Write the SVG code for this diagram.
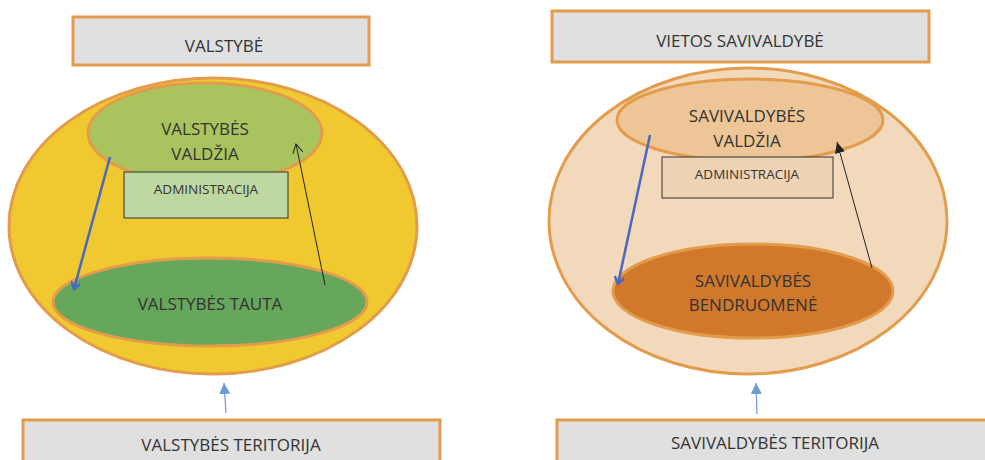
<svg xmlns="http://www.w3.org/2000/svg" width="985" height="460" viewBox="0 0 985 460">
<defs>
<style>
.box{fill:#E0E0E0;stroke:#E29C4B;stroke-width:3}
.ell{stroke:#E29C4B;stroke-width:3}
.adm{stroke:#333;stroke-width:1}
text{font-family:"Open Sans","Liberation Sans",sans-serif;fill:#333;text-anchor:middle;dominant-baseline:central}
.t16{font-size:17px}
.t12{font-size:13.5px}
.blue{stroke:#4A68C0;stroke-width:2.5;fill:none}
.blk{stroke:#222;stroke-width:1;fill:none}
.lb{stroke:#6E9AD8;stroke-width:1.2;fill:none}
</style>
<marker id="mBlue" markerWidth="10" markerHeight="10" refX="8" refY="5" orient="auto" markerUnits="userSpaceOnUse">
<path d="M1,0 L8,5 L1,10" fill="none" stroke="#4A68C0" stroke-width="2.5"/>
</marker>
<marker id="mBlkOpen" markerWidth="12" markerHeight="12" refX="11" refY="6" orient="auto" markerUnits="userSpaceOnUse">
<path d="M2,1 L11,6 L2,11" fill="none" stroke="#222" stroke-width="1"/>
</marker>
<marker id="mBlkFill" markerWidth="12" markerHeight="12" refX="11" refY="6" orient="auto" markerUnits="userSpaceOnUse">
<path d="M0,1 L11,6 L0,11 Z" fill="#222"/>
</marker>
<marker id="mLb" markerWidth="12" markerHeight="12" refX="11" refY="6" orient="auto" markerUnits="userSpaceOnUse">
<path d="M0,0.5 L11,6 L0,11.5 Z" fill="#6E9AD8"/>
</marker>
</defs>
<rect width="985" height="460" fill="#FFFFFF"/>

<!-- Left diagram -->
<g id="valstybe">
<rect class="box" x="73" y="17" width="296" height="48"/>
<text class="t16" x="224" y="45">VALSTYBĖ</text>
</g>
<g id="valstybe-ellipse">
<ellipse class="ell" cx="213" cy="226" rx="204" ry="148" fill="#F0C830"/>
</g>
<g id="valstybes-valdzia">
<ellipse class="ell" cx="205" cy="133" rx="117" ry="50" fill="#A9C45E"/>
<text class="t16" x="205" y="128">VALSTYBĖS</text>
<text class="t16" x="205" y="153">VALDŽIA</text>
</g>
<g id="administracija-l">
<rect class="adm" x="124" y="172" width="164" height="46" fill="#BFD7A0"/>
<text class="t12" x="206" y="189">ADMINISTRACIJA</text>
</g>
<g id="valstybes-tauta">
<ellipse class="ell" cx="210" cy="302" rx="157" ry="44" fill="#67A75C"/>
<text class="t16" x="210" y="303">VALSTYBĖS TAUTA</text>
</g>
<g id="valstybes-teritorija">
<rect class="box" x="23" y="420" width="417" height="50"/>
<text class="t16" x="231" y="444">VALSTYBĖS TERITORIJA</text>
</g>

<!-- Right diagram -->
<g id="vietos-savivaldybe">
<rect class="box" x="552" y="11" width="377" height="51"/>
<text class="t16" x="740" y="40">VIETOS SAVIVALDYBĖ</text>
</g>
<g id="savivaldybe-ellipse">
<ellipse class="ell" cx="748" cy="221" rx="199" ry="153" fill="#F3D9BC"/>
</g>
<g id="savivaldybes-valdzia">
<ellipse class="ell" cx="750" cy="120" rx="133" ry="41" fill="#EEC596"/>
<text class="t16" x="747" y="115">SAVIVALDYBĖS</text>
<text class="t16" x="747" y="140">VALDŽIA</text>
</g>
<g id="administracija-r">
<rect class="adm" x="662" y="157" width="171" height="41" fill="#EFD3B5"/>
<text class="t12" x="747" y="174">ADMINISTRACIJA</text>
</g>
<g id="savivaldybes-bendruomene">
<ellipse class="ell" cx="753" cy="291" rx="140" ry="47" fill="#D0782C"/>
<text class="t16" x="753" y="280">SAVIVALDYBĖS</text>
<text class="t16" x="753" y="304">BENDRUOMENĖ</text>
</g>
<g id="savivaldybes-teritorija">
<rect class="box" x="557" y="420" width="440" height="50"/>
<text class="t16" x="775" y="442">SAVIVALDYBĖS TERITORIJA</text>
</g>

<!-- Connectors -->
<g id="connectors">
<line class="blue" x1="110" y1="157" x2="74" y2="289" marker-end="url(#mBlue)"/>
<line class="blk" x1="325" y1="285" x2="296" y2="144" marker-end="url(#mBlkOpen)"/>
<line class="lb" x1="226" y1="413" x2="224" y2="383" marker-end="url(#mLb)"/>
<line class="blue" x1="650" y1="135" x2="618" y2="284" marker-end="url(#mBlue)"/>
<line class="blk" x1="872" y1="268" x2="837" y2="142" marker-end="url(#mBlkFill)"/>
<line class="lb" x1="757" y1="414" x2="756" y2="383" marker-end="url(#mLb)"/>
</g>
</svg>
